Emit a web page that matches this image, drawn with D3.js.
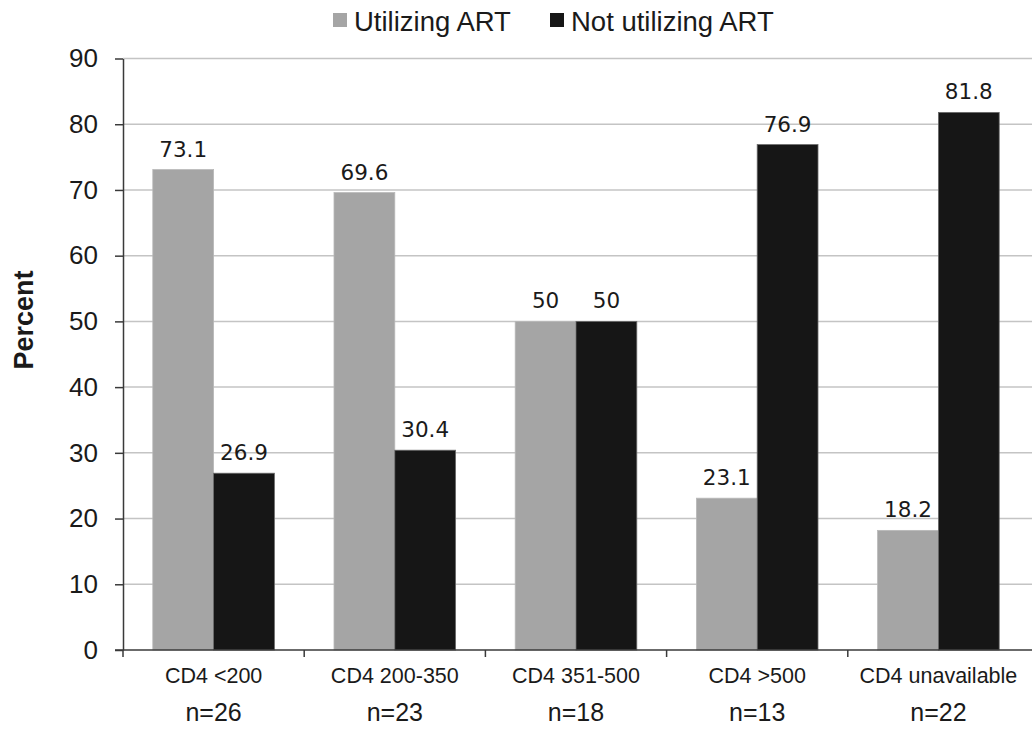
<!DOCTYPE html>
<html>
<head>
<meta charset="utf-8">
<script src="https://cdn.jsdelivr.net/npm/d3@7"></script>
<style>
  body { margin: 0; background: #fff; }
  svg { display: block; font-family: "Liberation Sans", Arial, sans-serif; }
</style>
</head>
<body>
<script>
// chart data
const categories = ['CD4 <200', 'CD4 200-350', 'CD4 351-500', 'CD4 >500', 'CD4 unavailable'];
const sampleSizes = ['n=26', 'n=23', 'n=18', 'n=13', 'n=22'];
const seriesNames = ['Utilizing ART', 'Not utilizing ART'];
const utilizing = [73.1, 69.6, 50, 23.1, 18.2];
const notUtilizing = [26.9, 30.4, 50, 76.9, 81.8];
const yTicks = [0, 10, 20, 30, 40, 50, 60, 70, 80, 90];

const W = 1032, H = 731;
const margin = { left: 123, top: 58.5, right: 3, bottom: 81 };
const colors = { 'Utilizing ART': '#a5a5a5', 'Not utilizing ART': '#161616' };
const strokes = { 'Utilizing ART': '#b8b8b8', 'Not utilizing ART': '#6a6a6a' };

const rows = categories.map((c, i) => ({
  cat: c,
  n: sampleSizes[i],
  vals: [
    { key: seriesNames[0], v: utilizing[i] },
    { key: seriesNames[1], v: notUtilizing[i] },
  ],
}));

const svg = d3.select('body').append('svg')
  .attr('width', W)
  .attr('height', H);

const x0 = d3.scaleBand()
  .domain(categories)
  .range([margin.left, W - margin.right])
  .padding(0);

const x1 = d3.scaleBand()
  .domain(seriesNames)
  .range([0, x0.bandwidth()])
  .paddingInner(0)
  .paddingOuter(0.49);

const y = d3.scaleLinear()
  .domain([0, 90])
  .range([H - margin.bottom, margin.top]);

// gridlines
svg.append('g')
  .selectAll('line')
  .data(yTicks.slice(1))
  .enter().append('line')
  .attr('x1', margin.left)
  .attr('x2', W)
  .attr('y1', d => y(d))
  .attr('y2', d => y(d))
  .attr('stroke', '#c4c4c4')
  .attr('stroke-width', 1.5);

// bars
const group = svg.append('g')
  .selectAll('g')
  .data(rows)
  .enter().append('g')
  .attr('transform', d => `translate(${x0(d.cat)},0)`);

group.selectAll('rect')
  .data(d => d.vals)
  .enter().append('rect')
  .attr('x', d => x1(d.key))
  .attr('width', x1.bandwidth())
  .attr('y', d => y(d.v))
  .attr('height', d => y(0) - y(d.v))
  .attr('fill', d => colors[d.key])
  .attr('stroke', d => strokes[d.key])
  .attr('stroke-width', 0.8);

group.selectAll('text.val')
  .data(d => d.vals)
  .enter().append('text')
  .attr('class', 'val')
  .attr('x', d => x1(d.key) + x1.bandwidth() / 2)
  .attr('y', d => y(d.v) - 13)
  .attr('text-anchor', 'middle')
  .style('font-family', '"DejaVu Sans", sans-serif')
  .style('font-size', '21.5px')
  .attr('fill', '#1a1a1a')
  .text(d => d.v);

// y axis
const yAxis = svg.append('g')
  .attr('transform', `translate(${margin.left},0)`)
  .call(d3.axisLeft(y).tickValues(yTicks).tickSize(8).tickSizeOuter(0).tickPadding(17));
yAxis.select('.domain').attr('stroke', '#3a3a3a').attr('stroke-width', 1.5);
yAxis.selectAll('.tick line').attr('stroke', '#3a3a3a').attr('stroke-width', 1.5);
yAxis.selectAll('.tick text')
  .style('font-size', '26px')
  .style('font-family', '"Liberation Sans", Arial, sans-serif')
  .attr('fill', '#1a1a1a');

// x axis line + boundary ticks
const xBase = y(0);
svg.append('line')
  .attr('x1', margin.left - 8)
  .attr('x2', W)
  .attr('y1', xBase)
  .attr('y2', xBase)
  .attr('stroke', '#3a3a3a')
  .attr('stroke-width', 1.5);

svg.append('g')
  .selectAll('line')
  .data(categories)
  .enter().append('line')
  .attr('x1', d => x0(d))
  .attr('x2', d => x0(d))
  .attr('y1', xBase)
  .attr('y2', xBase + 7)
  .attr('stroke', '#3a3a3a')
  .attr('stroke-width', 1.5);

// category labels
const catLabels = svg.append('g')
  .selectAll('g')
  .data(rows)
  .enter().append('g')
  .attr('transform', d => `translate(${x0(d.cat) + x0.bandwidth() / 2},0)`);

catLabels.append('text')
  .attr('y', 683)
  .attr('text-anchor', 'middle')
  .style('font-size', '21.5px')
  .attr('fill', '#1a1a1a')
  .text(d => d.cat);

catLabels.append('text')
  .attr('y', 721)
  .attr('text-anchor', 'middle')
  .style('font-size', '25px')
  .attr('fill', '#1a1a1a')
  .text(d => d.n);

// y axis title
svg.append('text')
  .attr('transform', 'translate(33,320) rotate(-90)')
  .attr('text-anchor', 'middle')
  .style('font-size', '27px')
  .style('font-weight', 'bold')
  .attr('fill', '#1a1a1a')
  .text('Percent');

// legend
const legendX = [333, 550];
const legend = svg.append('g')
  .selectAll('g')
  .data(seriesNames)
  .enter().append('g')
  .attr('transform', (d, i) => `translate(${legendX[i]},0)`);

legend.append('rect')
  .attr('x', 0)
  .attr('y', 13)
  .attr('width', 14)
  .attr('height', 14)
  .attr('fill', d => colors[d]);

legend.append('text')
  .attr('x', 21)
  .attr('y', 31)
  .style('font-size', '27.5px')
  .attr('fill', '#1a1a1a')
  .text(d => d);
</script>
</body>
</html>
